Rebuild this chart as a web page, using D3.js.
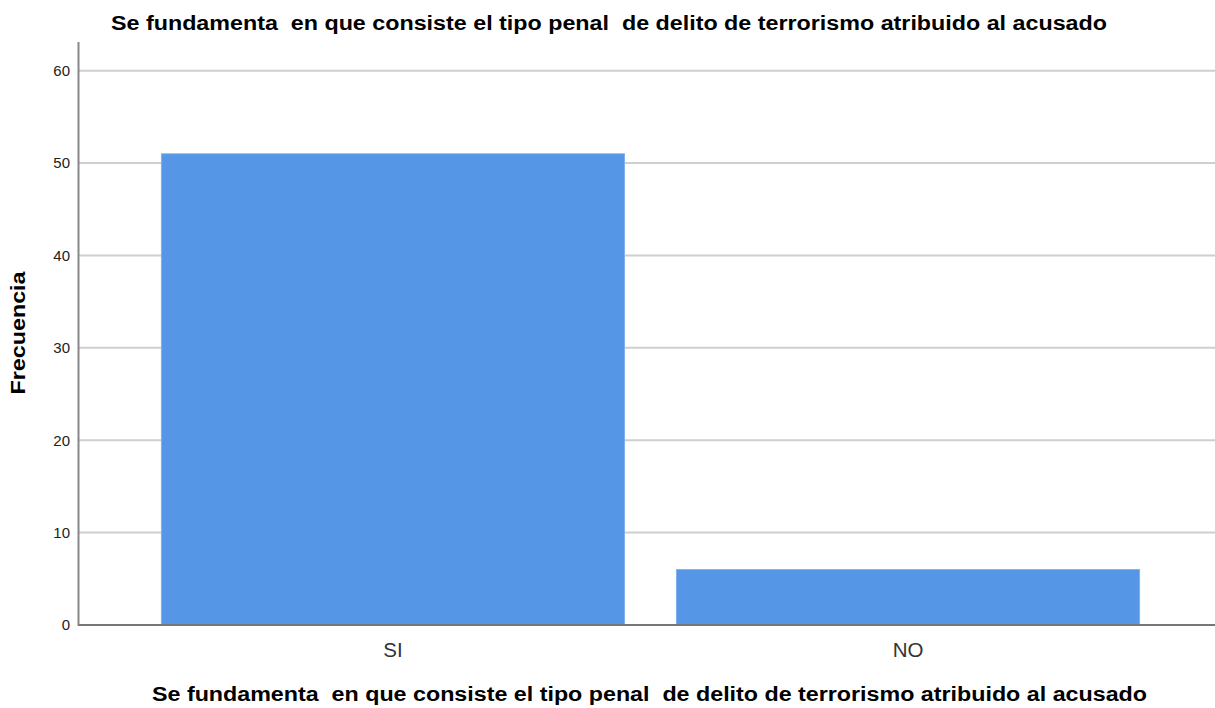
<!DOCTYPE html>
<html><head><meta charset="utf-8">
<script src="https://cdn.jsdelivr.net/npm/d3@7/dist/d3.min.js"></script>
<style>body{margin:0;background:#fff}svg{display:block}text{font-family:Arial,"Liberation Sans",sans-serif}</style>
</head><body><svg id="c" width="1215" height="708"></svg>
<script>
const categories = ["SI", "NO"];
const values = [51, 6];
const yTicks = [0, 10, 20, 30, 40, 50, 60];
const title = "Se fundamenta  en que consiste el tipo penal  de delito de terrorismo atribuido al acusado";
const yLabel = "Frecuencia";

const svg = d3.select("#c");
const L = 78.5, T = 42, B = 625, R = 1222.5;
const y = d3.scaleLinear().domain([0, 63.1]).range([B, T]);
const x = d3.scaleBand().domain(categories).range([L, R]).paddingInner(0.101).paddingOuter(0.161);

// gridlines
svg.append("g").selectAll("line").data(yTicks.filter(d => d > 0)).join("line")
  .attr("x1", L).attr("x2", 1215).attr("y1", d => y(d)).attr("y2", d => y(d))
  .attr("stroke", "#cfcfcf").attr("stroke-width", 2);

// bars
svg.append("g").selectAll("rect").data(values).join("rect")
  .attr("x", (d, i) => x(categories[i])).attr("width", x.bandwidth())
  .attr("y", d => y(d)).attr("height", d => B - y(d))
  .attr("fill", "#5596e6").attr("stroke", "#7fb0ee").attr("stroke-width", 1);

// y axis
const ya = svg.append("g").attr("transform", `translate(${L},0)`)
  .call(d3.axisLeft(y).tickValues(yTicks).tickSize(0).tickPadding(8.5));
ya.select(".domain").remove();
ya.selectAll(".tick text").attr("font-size", 15).attr("fill", "#222").attr("font-family", "Arial, 'Liberation Sans', sans-serif");
svg.append("line").attr("x1", L).attr("x2", L).attr("y1", T).attr("y2", B + 1).attr("stroke", "#888").attr("stroke-width", 2);

// x axis
svg.append("line").attr("x1", L).attr("x2", 1215).attr("y1", B).attr("y2", B).attr("stroke", "#777").attr("stroke-width", 2);
svg.append("g").selectAll("text").data(categories).join("text")
  .attr("x", d => x(d) + x.bandwidth() / 2).attr("y", 657)
  .attr("text-anchor", "middle").attr("font-size", 20.5).attr("fill", "#333").text(d => d);

// titles
svg.append("text").attr("x", 609).attr("y", 30).attr("text-anchor", "middle")
  .attr("font-size", 20).attr("font-weight", "bold").attr("fill", "#000")
  .style("white-space", "pre").attr("textLength", 996).attr("lengthAdjust", "spacingAndGlyphs").text(title);
svg.append("text").attr("x", 649.5).attr("y", 701).attr("text-anchor", "middle")
  .attr("font-size", 20).attr("font-weight", "bold").attr("fill", "#000")
  .style("white-space", "pre").attr("textLength", 995).attr("lengthAdjust", "spacingAndGlyphs").text(title);
svg.append("text").attr("transform", "translate(25,333) rotate(-90)").attr("text-anchor", "middle")
  .attr("font-size", 20).attr("font-weight", "bold").attr("fill", "#000")
  .attr("textLength", 123).attr("lengthAdjust", "spacingAndGlyphs").text(yLabel);
</script></body></html>
